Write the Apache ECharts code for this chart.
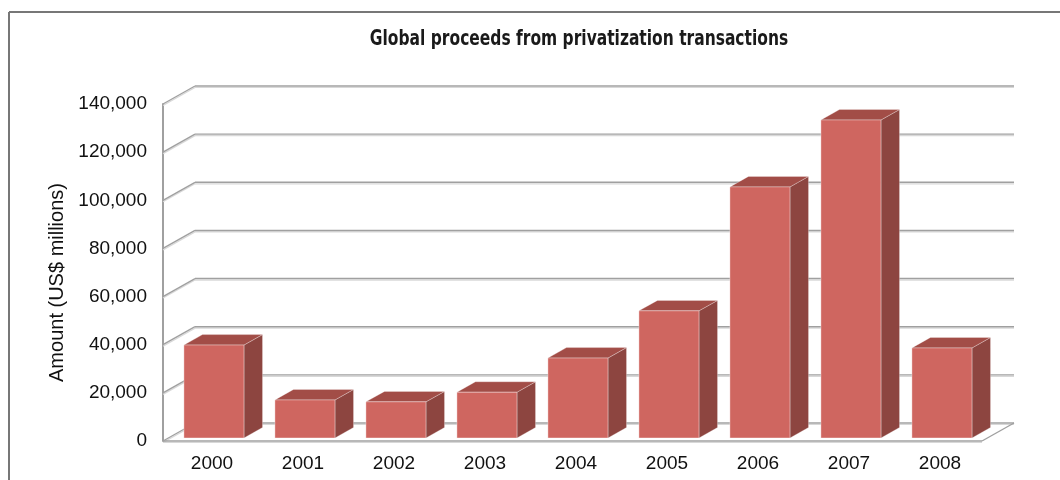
<!DOCTYPE html>
<html>
<head>
<meta charset="utf-8">
<script src="https://cdn.jsdelivr.net/npm/echarts@6/dist/echarts.min.js"></script>
<style>
html,body{margin:0;padding:0;background:#fff;}
#chart{width:1060px;height:480px;}
</style>
</head>
<body>
<div id="chart"></div>
<script>
// ---- data ----
const years = ['2000', '2001', '2002', '2003', '2004', '2005', '2006', '2007', '2008'];
const proceeds = [38600, 15800, 15000, 19000, 33200, 52800, 104300, 132100, 37400];
const yTicks = [0, 20000, 40000, 60000, 80000, 100000, 120000, 140000];
const titleText = 'Global proceeds from privatization transactions';
const yAxisTitle = 'Amount (US$ millions)';

// ---- styling constants ----
const WDX = 32, WDY = -18;      // wall depth offset
const F0 = 0.17;                // bar front position within depth
const BD = 0.58;                // bar depth fraction
const FONT = "'Liberation Sans', Arial, Helvetica, sans-serif";

const chart = echarts.init(document.getElementById('chart'), null, {renderer: 'canvas'});

const gridData = yTicks.map(v => [0, v]);
const barData = proceeds.map((v, i) => [i, v]);

function renderGrid(params, api) {
  const cs = params.coordSys;
  const v = api.value(1);
  const y = api.coord([0, v])[1];
  const x0 = cs.x, x1 = cs.x + cs.width;
  const line = (a, b, c, d, col, lw) => ({
    type: 'line', silent: true,
    shape: {x1: a, y1: b, x2: c, y2: d},
    style: {stroke: col, lineWidth: lw}
  });
  const children = [];
  children.push(line(x0 + WDX, y + WDY + 1.5, x1 + WDX, y + WDY + 1.5, '#d8d8d8', 1.2));
  children.push(line(x0, y + 1.5, x0 + WDX, y + WDY + 1.5, '#d8d8d8', 1.2));
  children.push(line(x0, y, x0 + WDX, y + WDY, '#a0a0a0', 1.4));
  children.push(line(x0 + WDX, y + WDY, x1 + WDX, y + WDY, '#a0a0a0', 1.4));
  if (v === 0) {
    children.push(line(x0, y + 1.5, x1, y + 1.5, '#d8d8d8', 1.2));
    children.push(line(x0, y, x1, y, '#a0a0a0', 1.4));
    children.push(line(x1, y, x1 + WDX, y + WDY, '#a0a0a0', 1.4));
  }
  return {type: 'group', children: children};
}

function renderBar(params, api) {
  const i = api.value(0), v = api.value(1);
  const top = api.coord([i, v]);
  const base = api.coord([i, 0]);
  const band = api.size([1, 0])[0];
  const w = band * 0.66;
  const fx = F0 * WDX, fy = F0 * WDY;
  const bx = BD * WDX, by = BD * WDY;
  const x0 = top[0] - w / 2 + fx, x1 = x0 + w;
  const yT = top[1] + fy, yB = base[1] + fy;
  return {
    type: 'group',
    children: [
      {type: 'polygon', shape: {points: [[x1, yB], [x1, yT], [x1 + bx, yT + by], [x1 + bx, yB + by]]},
       style: {fill: '#8d4540', stroke: 'rgba(255,255,255,0.35)', lineWidth: 0.8}},
      {type: 'polygon', shape: {points: [[x0, yT], [x1, yT], [x1 + bx, yT + by], [x0 + bx, yT + by]]},
       style: {fill: '#a24d47', stroke: 'rgba(255,255,255,0.35)', lineWidth: 0.8}},
      {type: 'rect', shape: {x: x0, y: yT, width: w, height: yB - yT},
       style: {fill: '#cf6660', stroke: 'rgba(255,255,255,0.45)', lineWidth: 0.8}}
    ]
  };
}

const option = {
  animation: false,
  backgroundColor: '#ffffff',
  grid: {left: 163, top: 104, width: 819, height: 337, containLabel: false},
  xAxis: {
    type: 'category',
    data: years,
    axisLine: {show: false},
    axisTick: {show: false},
    splitLine: {show: false},
    axisLabel: {margin: 13, fontSize: 19, color: '#111', fontFamily: FONT, padding: [0, 0, 0, 7]}
  },
  yAxis: {
    type: 'value',
    min: 0, max: 140000, interval: 20000,
    axisLine: {show: true, lineStyle: {color: '#a0a0a0', width: 2}},
    axisTick: {show: false},
    splitLine: {show: false},
    axisLabel: {
      margin: 16, fontSize: 19, color: '#111', fontFamily: FONT,
      formatter: v => v.toLocaleString('en-US')
    },
    name: yAxisTitle,
    nameLocation: 'middle',
    nameGap: 96,
    nameRotate: 90,
    nameTextStyle: {fontSize: 20, color: '#111', fontFamily: FONT, padding: [0, 20, 0, 0]}
  },
  graphic: [
    {type: 'line', shape: {x1: 9, y1: 12, x2: 9, y2: 480}, style: {stroke: '#777', lineWidth: 2}, silent: true},
    {type: 'line', shape: {x1: 9, y1: 12, x2: 1060, y2: 12}, style: {stroke: '#777', lineWidth: 2}, silent: true},
    {type: 'text', x: 579, y: 40, scaleX: 0.82, silent: true,
     style: {
       text: titleText, textAlign: 'center', textVerticalAlign: 'middle',
       fontFamily: "'Liberation Sans Narrow', 'DejaVu Sans Condensed', 'Arial Narrow', sans-serif",
       fontWeight: 'bold', fontSize: 21, fill: '#1a1a1a'
     }}
  ],
  series: [
    {type: 'custom', name: 'grid', data: gridData, renderItem: renderGrid, z: 1, silent: true,
     encode: {x: 0, y: 1}, clip: false},
    {type: 'custom', name: 'Proceeds', data: barData, renderItem: renderBar, z: 2,
     encode: {x: 0, y: 1}, clip: false}
  ]
};

chart.setOption(option);
</script>
</body>
</html>
